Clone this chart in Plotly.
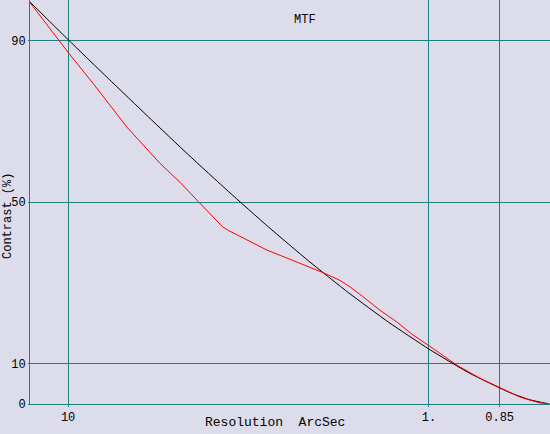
import plotly.graph_objects as go

# spatial frequency (1/arcsec) and contrast (%)
ideal_freq = [0, 0.1, 0.2, 0.3, 0.4, 0.5, 0.6, 0.7, 0.8, 0.9, 1.0, 1.1, 1.2, 1.25, 1.3]
ideal_contrast = [100, 90.2, 80.6, 71.1, 61.7, 52.6, 43.8, 35.4, 27.5, 20.2, 13.6, 7.7, 2.9, 1.1, 0]

meas_freq = [0, 0.08, 0.102, 0.162, 0.247, 0.329, 0.379, 0.424, 0.486, 0.499, 0.546, 0.596,
             0.629, 0.671, 0.711, 0.741, 0.778, 0.803, 0.835, 0.878, 0.92, 0.96, 1.002,
             1.045, 1.07, 1.127, 1.179, 1.227, 1.277, 1.30]
meas_contrast = [100, 89.5, 86.8, 79.4, 68.5, 59.6, 54.9, 50.2, 43.8, 43.0, 40.6, 38.1,
                 36.8, 35.1, 33.6, 32.3, 30.6, 29.0, 26.6, 23.2, 20.3, 17.1, 14.3,
                 11.4, 9.6, 6.4, 4.0, 1.7, 0.25, 0.1]

x_tickvals = [0.1, 1.0, 1.0 / 0.85]
x_ticktext = ["10", "1.", "0.85"]
y_tickvals = [0, 10, 50, 90]
y_ticktext = ["0", "10", "50", "90"]

BG = "#dcdcea"
GRID = "#1f8080"
FONT = "Liberation Mono"

fig = go.Figure()
fig.add_trace(go.Scatter(x=ideal_freq, y=ideal_contrast, mode="lines",
                         line=dict(color="#000000", width=1, shape="spline", smoothing=0.5),
                         showlegend=False, hoverinfo="skip"))
fig.add_trace(go.Scatter(x=meas_freq, y=meas_contrast, mode="lines",
                         line=dict(color="#ff0000", width=1),
                         showlegend=False, hoverinfo="skip"))

fig.update_layout(
    width=550, height=434,
    margin=dict(l=30, r=0, t=0, b=30),
    paper_bgcolor=BG, plot_bgcolor=BG,
    font=dict(family=FONT, size=12, color="#000000"),
    xaxis=dict(range=[0.005, 1.302], tickvals=x_tickvals, ticktext=x_ticktext,
               showgrid=True, gridcolor=GRID, gridwidth=1, zeroline=False,
               showline=True, linecolor=GRID, linewidth=1,
               ticks="outside", ticklen=2, tickcolor=GRID, automargin=False,
               tickfont=dict(family=FONT, size=12, color="#000000")),
    yaxis=dict(range=[0, 100], tickvals=y_tickvals, ticktext=y_ticktext,
               showgrid=True, gridcolor=GRID, gridwidth=1, zeroline=False,
               showline=True, linecolor=GRID, linewidth=1,
               ticks="outside", ticklen=1, tickcolor=GRID, automargin=False,
               ticklabelstandoff=0,
               tickfont=dict(family=FONT, size=12, color="#000000")),
    annotations=[
        dict(text="MTF", xref="paper", yref="paper", x=(305 - 30) / 520, y=(404 - 20) / 404,
             showarrow=False, xanchor="center", yanchor="middle",
             font=dict(family=FONT, size=12, color="#000000")),
        dict(text="Resolution\u00a0\u00a0ArcSec", xref="paper", yref="paper",
             x=(275 - 30) / 520, y=(404 - 422) / 404,
             showarrow=False, xanchor="center", yanchor="middle",
             font=dict(family=FONT, size=13, color="#000000")),
        dict(text="Contrast\u00a0(%)", xref="paper", yref="paper",
             x=(8 - 30) / 520, y=(404 - 216) / 404, textangle=-90,
             showarrow=False, xanchor="center", yanchor="middle",
             font=dict(family=FONT, size=12, color="#000000")),
    ],
)

fig.write_html(
    "out.html",
    config={"displayModeBar": False},
    post_script="document.body.style.margin='0';document.body.style.padding='0';"
                "document.body.style.overflow='hidden';"
                "document.documentElement.style.overflow='hidden';"
                "document.documentElement.style.background='" + BG + "';",
)
